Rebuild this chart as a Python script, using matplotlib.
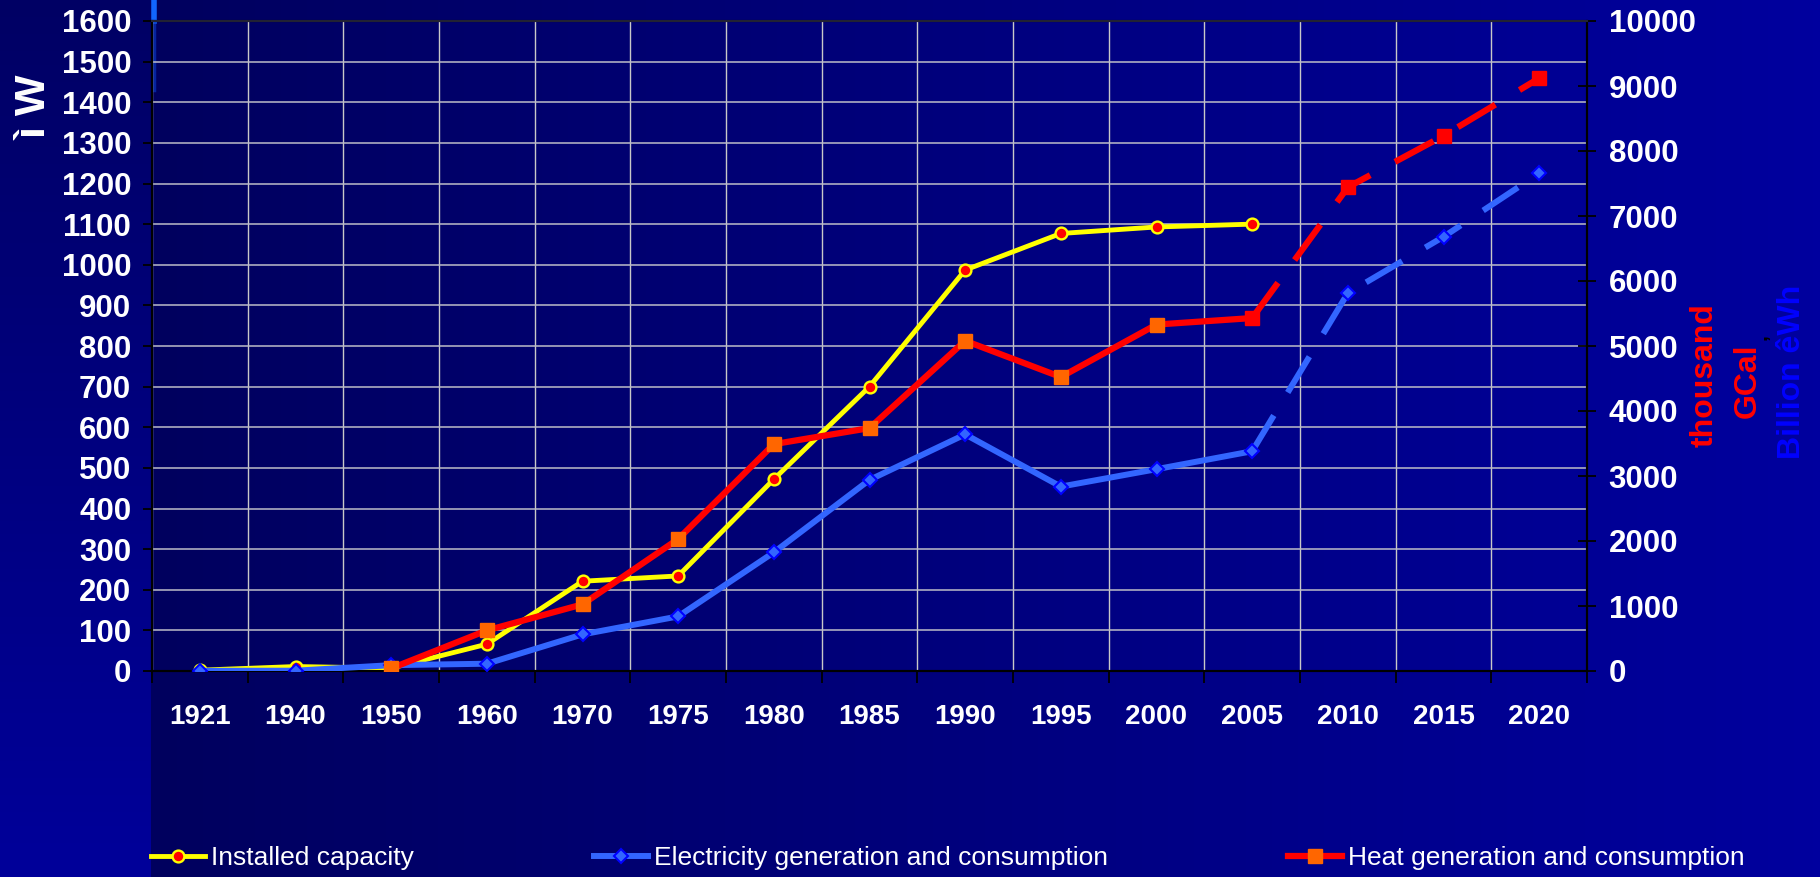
import numpy as np
import matplotlib
matplotlib.use("Agg")
import matplotlib.pyplot as plt
from matplotlib import font_manager
from matplotlib.colors import LinearSegmentedColormap
from matplotlib.lines import Line2D

plt.rcParams['font.family'] = ['Liberation Sans', 'DejaVu Sans']

# данные с графика
years = ['1921', '1940', '1950', '1960', '1970', '1975', '1980', '1985',
         '1990', '1995', '2000', '2005', '2010', '2015', '2020']
nan = np.nan
# МВт, левая ось
installed_mw = [2, 11, 7, 66, 221, 234, 472, 700, 987, 1077, 1093, 1100, nan, nan, nan]
# правая ось
electricity = [2, 5, 90, 112, 563, 840, 1825, 2940, 3640, 2837, 3105, 3381, 5814, 6680, 7656]
heat = [nan, nan, 40, 625, 1025, 2030, 3490, 3737, 5080, 4523, 5330, 5430, 7443, 8234, 9120]
left_ticks = list(range(0, 1700, 100))
right_ticks = list(range(0, 11000, 1000))
last_fact = 11  # 2005 - дальше прогноз (пунктир)

# узкий шрифт для подписей годов, если есть
names = {f.name for f in font_manager.fontManager.ttflist}
if 'Liberation Sans Narrow' in names:
    year_font = dict(family=['Liberation Sans Narrow', 'Liberation Sans'], weight='bold', size=23.5)
else:
    year_font = dict(family=['Liberation Sans', 'DejaVu Sans'], weight='bold', size=20)

W, H = 1820, 877
fig = plt.figure(figsize=(W / 100, H / 100), dpi=100)

# фон слайда
bg = fig.add_axes([0, 0, 1, 1], zorder=-10)
bg.axis('off')
cm_v = LinearSegmentedColormap.from_list('v', ['#000064', '#00009A'])
cm_h = LinearSegmentedColormap.from_list('h', ['#00005E', '#00009E'])
bg.imshow(np.linspace(0, 1, 256).reshape(-1, 1), cmap=cm_v, extent=[0, 151, H, 0], aspect='auto')
bg.imshow(np.linspace(0, 1, 256).reshape(1, -1), cmap=cm_h, extent=[151, W, H, 0], aspect='auto')
bg.set_xlim(0, W)
bg.set_ylim(H, 0)
bg.plot([153.5, 153.5], [0, 21], color='#1166FF', lw=4)
bg.plot([153.5, 153.5], [21, 90], color='#0A3FCC', lw=2.5, alpha=0.6)

x0, x1, y0, y1 = 152, 1587, 21, 671
ax = fig.add_axes([x0 / W, 1 - y1 / H, (x1 - x0) / W, (y1 - y0) / H])
ax.patch.set_alpha(0)
ax2 = ax.twinx()

x = np.arange(len(years))
ax.set_xlim(-0.5, len(years) - 0.5)
ax.set_ylim(0, 1600)
ax2.set_ylim(0, 10000)

ax.set_xticks(x)
ax.set_xticklabels(years)
ax.set_xticks(np.arange(-0.5, len(years), 1), minor=True)
ax.set_yticks(left_ticks)
ax2.set_yticks(right_ticks)

ax.grid(which='minor', axis='x', color='#C8C8C8', lw=1)
ax.grid(which='major', axis='y', color='#BDBDC8', lw=1.1)
ax.grid(which='major', axis='x', visible=False)

tick_font = dict(family=['Liberation Sans', 'DejaVu Sans'], weight='bold', size=22.5)
ax.tick_params(axis='x', which='major', length=0, pad=24, labelcolor='white')
ax.tick_params(axis='x', which='minor', length=8.5, width=1.3, color='black')
ax.tick_params(axis='y', length=6.5, width=1.3, color='black', pad=8.5, labelcolor='white')
ax2.tick_params(axis='y', direction='inout', length=13, width=1.3, color='black', pad=9, labelcolor='white')
for lab in ax.get_yticklabels() + ax2.get_yticklabels():
    lab.set_fontproperties(tick_font)
for lab in ax.get_xticklabels():
    lab.set_fontproperties(year_font)

for a in (ax, ax2):
    for s in a.spines.values():
        s.set_color('black')
        s.set_linewidth(1.5)
ax2.spines['top'].set_color('#222233')

# установленная мощность
ax.plot(x, installed_mw, color='#FFFF00', lw=3.5, marker='o', ms=8.5,
        mfc='#FF0000', mec='#FFFF00', mew=1.7, zorder=3)

# выработка электроэнергии
ax2.plot(x[:last_fact + 1], electricity[:last_fact + 1], color='#3366FF', lw=4.3, zorder=3)
ax2.plot(x[last_fact:], electricity[last_fact:], color='#3366FF', lw=4.3,
         linestyle=(0, (7, 4.5)), zorder=3)
ax2.plot(x, electricity, linestyle='none', marker='D', ms=7.5, mfc='#3366FF',
         mec='#0000FF', mew=1.5, zorder=4)

# отпуск тепла
ax2.plot(x[:last_fact + 1], heat[:last_fact + 1], color='#FF0000', lw=4.5, zorder=5)
ax2.plot(x[last_fact:], heat[last_fact:], color='#FF0000', lw=4.5,
         linestyle=(0, (7, 4.5)), zorder=5)
ax2.plot(x[:last_fact], heat[:last_fact], linestyle='none', marker='s', ms=10,
         mfc='#FF6600', mec='#FF6600', zorder=6)
ax2.plot(x[last_fact:], heat[last_fact:], linestyle='none', marker='s', ms=10,
         mfc='#FF0000', mec='#FF0000', zorder=6)

# подписи осей
fig.text(35 / W, 1 - 108 / H, 'ì W', rotation=90, color='white', fontsize=31,
         weight='bold', ha='center', va='center')
fig.text(1705 / W, 1 - 375 / H, 'thousand', rotation=90, color='#FF0000', fontsize=23,
         weight='bold', ha='center', va='center')
fig.text(1748 / W, 1 - 381 / H, 'GCal', rotation=90, color='#FF0000', fontsize=23,
         weight='bold', ha='center', va='center')
fig.text(1761 / W, 1 - 337 / H, ',', rotation=90, color='black', fontsize=15,
         weight='bold', ha='center', va='center')
fig.text(1792 / W, 1 - 372 / H, 'Billion êWh', rotation=90, color='#0000FF', fontsize=23,
         weight='bold', ha='center', va='center')

# легенда
handles = [
    Line2D([], [], color='#FFFF00', lw=3.5, marker='o', ms=8.5, mfc='#FF0000', mec='#FFFF00', mew=1.7),
    Line2D([], [], color='#3366FF', lw=4.3, marker='D', ms=7.5, mfc='#3366FF', mec='#0000FF', mew=1.5),
    Line2D([], [], color='#FF0000', lw=4.5, marker='s', ms=10, mfc='#FF6600', mec='#FF6600'),
]
labels = ['Installed capacity', 'Electricity generation and consumption',
          'Heat generation and consumption']
fs = 19
fpx = fs * 100 / 72
fig.legend(handles, labels, ncol=3, loc='center left',
           bbox_to_anchor=(151 / W, 1 - 858 / H), frameon=False, fontsize=fs,
           labelcolor='white', handlelength=54 / fpx, handletextpad=6 / fpx,
           columnspacing=180 / fpx, borderpad=0, borderaxespad=0, numpoints=1)

fig.savefig('out.png', dpi=100, facecolor=fig.get_facecolor())
